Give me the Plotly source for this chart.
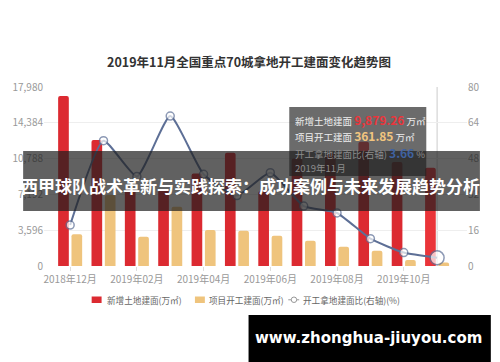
import plotly.graph_objects as go

months = ["2018年12月", "2019年01月", "2019年02月", "2019年03月", "2019年04月", "2019年05月",
          "2019年06月", "2019年07月", "2019年08月", "2019年09月", "2019年10月", "2019年11月"]
land_area = [17070, 12650, 7650, 7600, 9300, 11380, 7500, 10800, 11300, 12490, 10450, 9879.26]
start_area = [3180, 7130, 2940, 5940, 3610, 3550, 3040, 2540, 1940, 1540, 600, 361.85]
ratio = [18.3, 56, 40, 67, 41, 31.5, 41.7, 26.8, 23.7, 12.2, 6.0, 3.66]
left_ticks = [0, 3596, 7192, 10788, 14384, 17980]
right_ticks = [0, 16, 32, 48, 64, 80]
x_labels = months[::2]

title = "2019年11月全国重点70城拿地开工建面变化趋势图"
overlay_text = "西甲球队战术革新与实践探索：成功案例与未来发展趋势分析"
watermark = "www.zhonghua-jiuyou.com"

FONT = "Noto Sans CJK SC, Noto Sans, sans-serif"
W, H = 500, 362
L, T, PW, PH = 41, 87, 426, 179
B = H - T - PH
R = W - L - PW

def px(x):
    return (x - L) / PW

def py(y):
    return (T + PH - y) / PH

RED = "#dc2a31"
YEL = "#efc47d"
LINE = "#5d6f96"

fig = go.Figure()
fig.add_trace(go.Bar(x=months, y=land_area, name="新增土地建面(万㎡)",
                     marker=dict(color=[RED] * 11 + ["#ea3439"], cornerradius=2, line_width=0),
                     yaxis="y"))
fig.add_trace(go.Bar(x=months, y=start_area, name="项目开工建面(万㎡)",
                     marker=dict(color=YEL, cornerradius=2, line_width=0), yaxis="y"))
fig.add_trace(go.Scatter(x=months, y=ratio, name="开工拿地建面比(右轴)(%)", yaxis="y2",
                         mode="lines+markers",
                         line=dict(color=LINE, width=2, shape="spline", smoothing=0.5),
                         marker=dict(size=[8] * 11 + [14], color="white",
                                     line=dict(color=LINE, width=1.5))))

shapes = []
annotations = []

# axis pointer on the hovered category
shapes.append(dict(type="line", xref="x", yref="paper", x0=months[-1], x1=months[-1],
                   y0=0, y1=1, line=dict(color="#cccccc", width=1), layer="below"))

# tooltip box
shapes.append(dict(type="rect", xref="paper", yref="paper", x0=px(288), x1=px(426),
                   y0=py(176), y1=py(107), fillcolor="rgba(50,50,50,0.72)",
                   line=dict(width=0), layer="above"))
rows = [
    (119, "#eeeeee", "新增土地建面 <span style='color:#e8363c;font-size:12px;font-weight:bold'>9,879.26</span> 万㎡"),
    (135, "#eeeeee", "项目开工建面 <span style='color:#f1c57f;font-size:12px;font-weight:bold'>361.85</span> 万㎡"),
    (152, "#8c8c8c", "开工拿地建面比(右轴) <span style='color:#3f62a0;font-size:12px;font-weight:bold'>3.66</span> %"),
    (168, "#8c8c8c", "2019年11月"),
]
for y, c, t in rows:
    annotations.append(dict(xref="paper", yref="paper", x=px(292), y=py(y), xanchor="left",
                            yanchor="middle", showarrow=False, text=t,
                            font=dict(family=FONT, size=9.5, color=c)))

# legend (manual)
shapes.append(dict(type="rect", xref="paper", yref="paper", x0=px(89), x1=px(99),
                   y0=py(303), y1=py(296.5), fillcolor=RED, line=dict(width=0)))
shapes.append(dict(type="rect", xref="paper", yref="paper", x0=px(193), x1=px(203),
                   y0=py(303), y1=py(296.5), fillcolor=YEL, line=dict(width=0)))
shapes.append(dict(type="line", xref="paper", yref="paper", x0=px(287), x1=px(298),
                   y0=py(299.8), y1=py(299.8), line=dict(color="#999999", width=1)))
shapes.append(dict(type="circle", xref="paper", yref="paper", x0=px(290), x1=px(295.5),
                   y0=py(302.5), y1=py(297), fillcolor="white", line=dict(color="#999999", width=1)))
for x, t in [(102, "新增土地建面(万㎡)"), (205, "项目开工建面(万㎡)"), (300, "开工拿地建面比(右轴)(%)")]:
    annotations.append(dict(xref="paper", yref="paper", x=px(x), y=py(299.8), xanchor="left",
                            yanchor="middle", showarrow=False, text=t,
                            font=dict(family=FONT, size=8.6, color="#666666")))

# title
annotations.append(dict(xref="paper", yref="paper", x=px(247), y=py(61.5), xanchor="center",
                        yanchor="middle", showarrow=False, text="<b>" + title + "</b>",
                        font=dict(family=FONT, size=12.5, color="#333333")))

# dark overlay band with headline
shapes.append(dict(type="rect", xref="paper", yref="paper", x0=px(20), x1=px(480),
                   y0=py(211), y1=py(151), fillcolor="rgba(30,30,30,0.70)",
                   line=dict(width=0), layer="above"))
annotations.append(dict(xref="paper", yref="paper", x=px(249), y=py(185), xanchor="center",
                        yanchor="middle", showarrow=False, text="<b>" + overlay_text + "</b>",
                        font=dict(family=FONT, size=17, color="white")))

# watermark box
shapes.append(dict(type="rect", xref="paper", yref="paper", x0=px(247), x1=px(491),
                   y0=py(362), y1=py(315), fillcolor="black", line=dict(width=0), layer="above"))
annotations.append(dict(xref="paper", yref="paper", x=px(368), y=py(337.5), xanchor="center",
                        yanchor="middle", showarrow=False, text="<b>" + watermark + "</b>",
                        font=dict(family="DejaVu Sans, sans-serif", size=15, color="white")))

fig.update_layout(
    width=W, height=H,
    margin=dict(l=L, r=R, t=T, b=B, pad=0),
    paper_bgcolor="white", plot_bgcolor="white",
    barmode="group", bargap=0.2, bargroupgap=0.2,
    showlegend=False,
    font=dict(family=FONT, size=10, color="#999999"),
    xaxis=dict(type="category", categoryorder="array", categoryarray=months,
               tickvals=x_labels, ticktext=x_labels, showgrid=False, showline=False,
               zeroline=False, ticks="outside", ticklen=4, tickcolor="#dddddd",
               tickfont=dict(family=FONT, size=10, color="#999999")),
    yaxis=dict(range=[0, 17980], tickvals=left_ticks, ticktext=[f"{v:,}" for v in left_ticks],
               showgrid=True, gridcolor="#eeeeee", gridwidth=1, zeroline=False, showline=False,
               ticks="", tickfont=dict(family=FONT, size=10, color="#999999")),
    yaxis2=dict(range=[0, 80], tickvals=right_ticks, ticktext=[str(v) for v in right_ticks],
                overlaying="y", side="right", showgrid=False, zeroline=False, showline=False,
                ticks="", tickfont=dict(family=FONT, size=10, color="#999999")),
    shapes=shapes, annotations=annotations,
)

fig.write_html("out.html")
